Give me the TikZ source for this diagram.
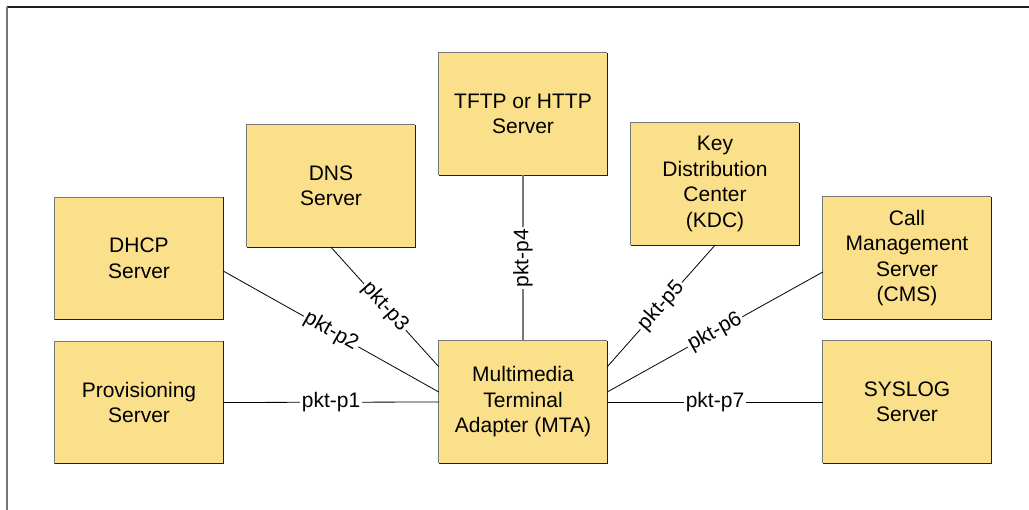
\documentclass[tikz,border=0pt]{standalone}
\usepackage{fontspec}
\setmainfont{Liberation Sans}
\definecolor{boxfill}{RGB}{251,224,139}
\definecolor{edgegray}{RGB}{120,120,120}
\definecolor{edgedark}{RGB}{30,30,30}
\begin{document}
\begin{tikzpicture}[x=1pt,y=-1pt,
  srv/.style={fill=boxfill, draw=none, minimum width=168pt, minimum height=122pt,
    inner sep=0pt, align=center, font=\fontsize{21}{25.5}\selectfont},
  link/.style={draw=black, line width=0.8pt},
  lbl/.style={fill=white, inner sep=2pt, sloped, font=\fontsize{21}{24}\selectfont}
]
\useasboundingbox (0,0) rectangle (1029,510);
% frame
\draw[edgedark, line width=1.5pt] (7,7) -- (1029,7);
\draw[edgegray, line width=1.5pt] (7,7) -- (7,510);

\node[srv] (prov) at (139,402.5) {Provisioning\\Server};
\node[srv] (dhcp) at (139,258.5) {DHCP\\Server};
\node[srv] (dns) at (331,186) {DNS\\Server};
\node[srv] (tftp) at (523,114) {TFTP or HTTP\\Server};
\node[srv] (kdc) at (715,184) {Key\\Distribution\\Center\\(KDC)};
\node[srv] (cms) at (907,258) {Call\\Management\\Server\\(CMS)};
\node[srv] (sys) at (907,402) {SYSLOG\\Server};
\node[srv] (mta) at (523,402) {Multimedia\\Terminal\\Adapter (MTA)};

\foreach \n in {prov,dhcp,dns,tftp,kdc,cms,sys,mta}{
  \draw[edgegray, line width=1.2pt] (\n.south west) -- (\n.north west) -- (\n.north east);
  \draw[edgedark, line width=1.2pt] (\n.north east) -- (\n.south east) -- (\n.south west);
}

\draw[link] (prov.east) -- node[lbl] {pkt-p1} (mta.west);
\draw[link] ([yshift=-12.5pt]dhcp.east) -- node[lbl] {pkt-p2} ([yshift=10pt]mta.west);
\draw[link] (dns.south) -- node[lbl] {pkt-p3} ([yshift=-26pt]mta.north west);
\draw[draw=edgegray, line width=1.3pt] (mta.north) -- node[lbl] {pkt-p4} (tftp.south);
\draw[link] (kdc.south) -- node[lbl] {pkt-p5} ([yshift=-26pt]mta.north east);
\draw[link] ([yshift=-14pt]cms.west) -- node[lbl] {pkt-p6} ([yshift=10pt]mta.east);
\draw[link] (mta.east) -- node[lbl] {pkt-p7} (sys.west);
\end{tikzpicture}
\end{document}
